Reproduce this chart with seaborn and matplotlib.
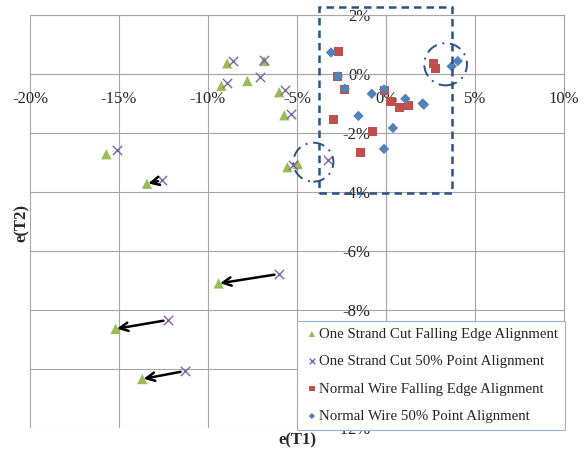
import numpy as np
import pandas as pd
import matplotlib
matplotlib.use('Agg')
import matplotlib.pyplot as plt
from matplotlib.patches import Rectangle, Ellipse
import seaborn as sns

# One Strand Cut - Falling Edge Alignment (green triangles), values in %
cut_fall_x = [-8.92, -6.85, -7.79, -9.25, -6.00, -5.71, -15.71, -5.54, -4.96, -13.43, -9.40, -15.19, -13.69]
cut_fall_y = [0.36, 0.44, -0.24, -0.40, -0.62, -1.40, -2.72, -3.16, -3.05, -3.72, -7.10, -8.64, -10.34]

# One Strand Cut - 50% Point Alignment (purple crosses)
cut_half_x = [-8.60, -6.85, -7.06, -8.93, -5.66, -5.32, -15.11, -3.28, -5.24, -12.58, -6.03, -12.27, -11.31]
cut_half_y = [0.43, 0.46, -0.10, -0.32, -0.54, -1.35, -2.56, -2.90, -3.10, -3.60, -6.78, -8.34, -10.07]

# Normal Wire - Falling Edge Alignment (red squares)
norm_fall_x = [-2.68, -2.70, -2.32, -0.11, 0.26, 0.75, 1.25, -2.96, -0.77, -1.46, 2.66, 2.77]
norm_fall_y = [0.76, -0.07, -0.52, -0.55, -0.94, -1.12, -1.08, -1.55, -1.95, -2.67, 0.34, 0.17]

# Normal Wire - 50% Point Alignment (blue diamonds)
norm_half_x = [-3.09, -2.70, -2.32, -0.80, -0.11, 1.09, 2.06, 2.13, -1.55, 0.39, -0.11, 3.69, 4.03]
norm_half_y = [0.73, -0.08, -0.50, -0.67, -0.52, -0.84, -1.00, -1.04, -1.42, -1.83, -2.54, 0.26, 0.44]

# arrows go from the 50% point to the falling edge point of the same case
arrow_idx = [9, 10, 11, 12]

x_ticks = [-20, -15, -10, -5, 0, 5, 10]
x_tick_labels = ['-20%', '-15%', '-10%', '-5%', '0%', '5%', '10%']
y_ticks = [2, 0, -2, -4, -6, -8, -10, -12]
y_tick_labels = ['2%', '0%', '-2%', '-4%', '-6%', '-8%', '-10%', '-12%']

series = [
    ('One Strand Cut Falling Edge Alignment', cut_fall_x, cut_fall_y, '^', '#9BBB59', 55),
    ('One Strand Cut 50% Point Alignment', cut_half_x, cut_half_y, 'x', '#8064A2', 45),
    ('Normal Wire Falling Edge Alignment', norm_fall_x, norm_fall_y, 's', '#C0504D', 42),
    ('Normal Wire 50% Point Alignment', norm_half_x, norm_half_y, 'D', '#4F81BD', 28),
]

sns.set_style('white')
plt.rcParams['font.family'] = ['Liberation Serif', 'DejaVu Serif']

fig = plt.figure(figsize=(5.86, 4.5), dpi=100)
ax = fig.add_axes([30 / 586, 1 - 428 / 450, 534 / 586, 413 / 450])

for name, xs, ys, mk, col, size in series:
    df = pd.DataFrame({'x': xs, 'y': ys})
    if mk == 'x':
        sns.scatterplot(data=df, x='x', y='y', marker=mk, color=col, s=size,
                        linewidth=1.0, label=name, ax=ax, zorder=4)
    else:
        sns.scatterplot(data=df, x='x', y='y', marker=mk, color=col, s=size,
                        edgecolor='none', label=name, ax=ax, zorder=4)

for i in arrow_idx:
    ax.annotate('', xy=(cut_fall_x[i], cut_fall_y[i]), xytext=(cut_half_x[i], cut_half_y[i]),
                arrowprops=dict(arrowstyle='->', color='black', lw=1.8,
                                mutation_scale=15, shrinkA=3, shrinkB=1), zorder=5)

# highlight box and circles
box_col = '#2C5287'
ax.add_patch(Rectangle((-3.75, -4.02), 7.46, 6.29, fill=False, ec=box_col, lw=1.8,
                       ls=(0, (3, 2)), clip_on=False, zorder=6))
ax.add_patch(Ellipse((-4.08, -2.99), 2.25, 1.32, fill=False, ec=box_col, lw=1.4,
                     ls=(0, (6, 3, 1, 3)), zorder=6))
ax.add_patch(Ellipse((3.35, 0.33), 2.4, 1.43, fill=False, ec=box_col, lw=1.4,
                     ls=(0, (6, 3, 1, 3)), zorder=6))

ax.set_xlim(-20, 10)
ax.set_ylim(-12, 2)
ax.set_xticks(x_ticks)
ax.set_xticklabels(x_tick_labels)
ax.set_yticks(y_ticks)
ax.set_yticklabels(y_tick_labels)
ax.grid(True, color='#A6A6A6', lw=0.8)
ax.set_axisbelow(True)
ax.tick_params(length=0, labelsize=12)
ax.tick_params(axis='x', pad=12)
ax.tick_params(axis='y', pad=11)
ax.spines['left'].set_position(('data', 0))
ax.spines['bottom'].set_position(('data', 0))
for sp in ax.spines.values():
    sp.set_color('#A6A6A6')
    sp.set_linewidth(0.8)
ax.set_xlabel('')
ax.set_ylabel('')

fig.text(0.507, 0.022, 'e(T1)', ha='center', va='center', fontsize=12, fontweight='bold')
fig.text(0.0375, 0.504, 'e(T2)', ha='center', va='center', fontsize=12,
         fontweight='bold', rotation=90)

leg = ax.legend(loc='lower left', bbox_to_anchor=(0.5, -0.004), borderaxespad=0,
                fontsize=10.7, frameon=True, fancybox=False, framealpha=1,
                edgecolor='#95B3D7', handlelength=1.1, handletextpad=-0.05,
                labelspacing=0.94, borderpad=0.45, markerscale=0.6)
leg.get_frame().set_linewidth(0.8)
leg.set_zorder(10)

fig.savefig('out.png', dpi=100)
